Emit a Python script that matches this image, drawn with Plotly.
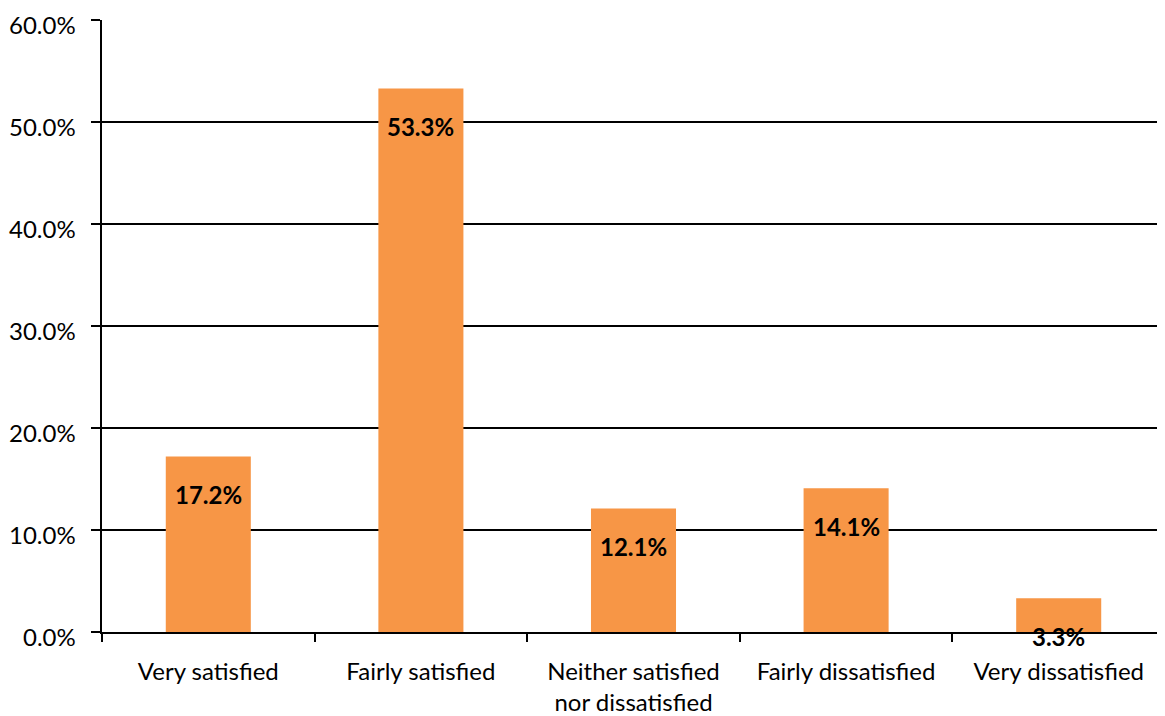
import plotly.graph_objects as go

categories = ["Very satisfied", "Fairly satisfied", "Neither satisfied<br>nor dissatisfied",
              "Fairly dissatisfied", "Very dissatisfied"]
values = [17.2, 53.3, 12.1, 14.1, 3.3]
labels = ["17.2%", "53.3%", "12.1%", "14.1%", "3.3%"]
tick_vals = [0, 10, 20, 30, 40, 50, 60]
tick_text = ["0.0%", "10.0%", "20.0%", "30.0%", "40.0%", "50.0%", "60.0%"]

FONT = "Lato"
FS = 24
fig = go.Figure()
fig.add_trace(go.Bar(x=categories, y=values, marker=dict(color="#F79646", line=dict(width=0)),
                     width=0.4, hoverinfo="skip"))

# data labels (inside end of bars)
for c, v, t in zip(categories, values, labels):
    fig.add_annotation(x=c, y=v, text="<b>" + t + "</b>", showarrow=False,
                       yshift=-38, font=dict(family=FONT, size=FS, color="black"))

# y tick labels, drawn slightly below their gridlines as in the reference
for tv, tt in zip(tick_vals, tick_text):
    fig.add_annotation(xref="paper", x=0, y=tv, yref="y", text=tt, showarrow=False,
                       xanchor="right", xshift=-24, yshift=-4,
                       font=dict(family=FONT, size=FS, color="black"))

# page body has an 8px margin, so the figure is shrunk/offset accordingly
fig.update_layout(
    width=1157, height=708,
    margin=dict(l=94, r=0, t=12, b=84),
    paper_bgcolor="white", plot_bgcolor="white",
    showlegend=False,
    font=dict(family=FONT, size=FS, color="black"),
)
fig.update_xaxes(type="category", range=[-0.5, 4.5], tickson="boundaries",
                 ticks="outside", ticklen=8, tickwidth=1.5, tickcolor="black",
                 showline=True, linecolor="black", linewidth=2, showgrid=False,
                 automargin=False, ticklabelstandoff=17, ticklabeloverflow="allow",
                 tickfont=dict(family=FONT, size=FS, color="black"))
fig.update_yaxes(range=[0, 60.02], tickvals=tick_vals, showticklabels=False,
                 ticks="outside", ticklen=9, tickwidth=1.5, tickcolor="black",
                 showline=True, linecolor="black", linewidth=2,
                 showgrid=True, gridcolor="black", gridwidth=1.5,
                 zeroline=False, automargin=False)

fig.write_html("out.html")
